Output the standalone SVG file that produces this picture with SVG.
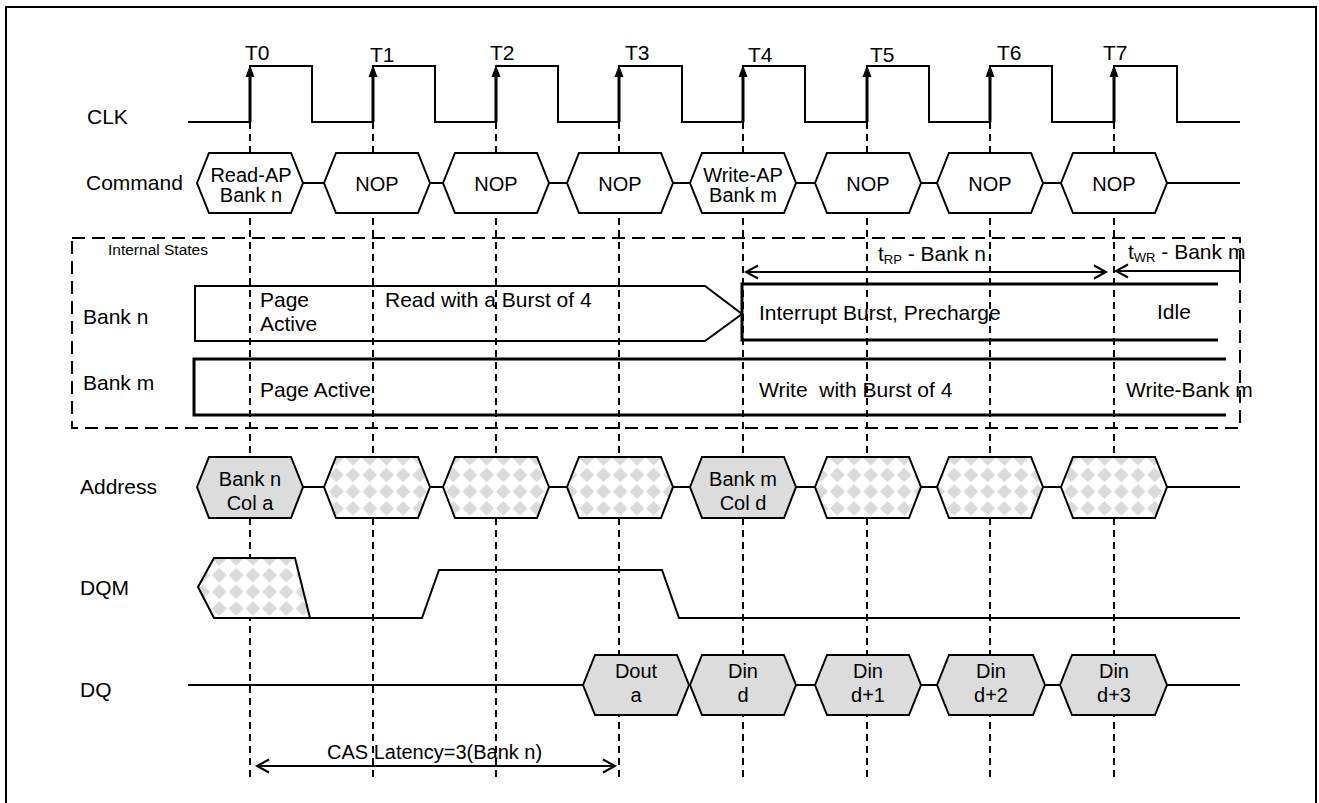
<svg xmlns="http://www.w3.org/2000/svg" width="1319" height="803" viewBox="0 0 1319 803">
<style>
text{font-family:"Liberation Sans",Arial,sans-serif;fill:#000;font-size:21px}
.hx{font-size:20px;text-anchor:middle}
.ln{fill:none;stroke:#000;stroke-width:2}
.thick{fill:none;stroke:#000;stroke-width:3}
.grid{stroke:#000;stroke-width:2;stroke-dasharray:7 5;fill:none}
.wh{fill:#fff;stroke:#000;stroke-width:2}
.gr{fill:#dcdcdc;stroke:#000;stroke-width:2}
.ht{fill:url(#hatch);stroke:#000;stroke-width:2}
.dim{fill:none;stroke:#000;stroke-width:2;marker-start:url(#chevS);marker-end:url(#chevE)}
</style>
<defs>
<pattern id="hatch" patternUnits="userSpaceOnUse" x="-6" y="-1" width="16.7" height="16.7">
<rect width="16.7" height="16.7" fill="#fff"/>
<polygon points="8.35,0.9 15.8,8.35 8.35,15.8 0.9,8.35" fill="#dadada"/>
</pattern>
<marker id="chevE" markerUnits="userSpaceOnUse" markerWidth="16" markerHeight="16" refX="13" refY="8" orient="auto">
<path d="M1,1.5 L13,8 L1,14.5" fill="none" stroke="#000" stroke-width="2"/>
</marker>
<marker id="chevS" markerUnits="userSpaceOnUse" markerWidth="16" markerHeight="16" refX="3" refY="8" orient="auto">
<path d="M15,1.5 L3,8 L15,14.5" fill="none" stroke="#000" stroke-width="2"/>
</marker>
<polygon id="clkArr" points="-4.5,77 4.5,77 0,65" fill="#000"/>
</defs>

<rect x="6" y="7" width="1310" height="810" fill="#fff" stroke="#000" stroke-width="2"/>

<g id="connectors">
<g id="time-grid">
<line class="grid" x1="250" y1="122" x2="250" y2="782"/>
<line class="grid" x1="373" y1="122" x2="373" y2="782"/>
<line class="grid" x1="496" y1="122" x2="496" y2="782"/>
<line class="grid" x1="619" y1="122" x2="619" y2="782"/>
<line class="grid" x1="743" y1="122" x2="743" y2="782"/>
<line class="grid" x1="867" y1="122" x2="867" y2="782"/>
<line class="grid" x1="990" y1="122" x2="990" y2="782"/>
<line class="grid" x1="1114" y1="122" x2="1114" y2="782"/>
</g>
<line class="dim" x1="746" y1="272" x2="1106" y2="272"/>
<line x1="1240" y1="271" x2="1116" y2="271" fill="none" stroke="#000" stroke-width="2" marker-end="url(#chevE)"/>
<line x1="1240" y1="262" x2="1240" y2="280" stroke="#000" stroke-width="2"/>
<line class="dim" x1="257" y1="766" x2="615" y2="766"/>
<line class="ln" x1="303" y1="183" x2="324" y2="183"/>
<line class="ln" x1="430" y1="183" x2="443" y2="183"/>
<line class="ln" x1="549" y1="183" x2="567" y2="183"/>
<line class="ln" x1="673" y1="183" x2="690" y2="183"/>
<line class="ln" x1="796" y1="183" x2="815" y2="183"/>
<line class="ln" x1="921" y1="183" x2="937" y2="183"/>
<line class="ln" x1="1043" y1="183" x2="1061" y2="183"/>
<line class="ln" x1="1167" y1="183" x2="1240" y2="183"/>
<line class="ln" x1="303" y1="487" x2="324" y2="487"/>
<line class="ln" x1="430" y1="487" x2="443" y2="487"/>
<line class="ln" x1="549" y1="487" x2="567" y2="487"/>
<line class="ln" x1="673" y1="487" x2="690" y2="487"/>
<line class="ln" x1="796" y1="487" x2="815" y2="487"/>
<line class="ln" x1="921" y1="487" x2="937" y2="487"/>
<line class="ln" x1="1043" y1="487" x2="1061" y2="487"/>
<line class="ln" x1="1167" y1="487" x2="1240" y2="487"/>
<line class="ln" x1="188" y1="685" x2="583" y2="685"/>
<line class="ln" x1="796" y1="685" x2="815" y2="685"/>
<line class="ln" x1="921" y1="685" x2="937" y2="685"/>
<line class="ln" x1="1045" y1="685" x2="1060" y2="685"/>
<line class="ln" x1="1167" y1="685" x2="1240" y2="685"/>
</g>

<g id="internal-states">
<rect x="72" y="238" width="1168" height="190" fill="none" stroke="#000" stroke-width="2" stroke-dasharray="13 7"/>
<text x="108" y="255" style="font-size:15.5px">Internal States</text>
</g>

<g id="clk">
<text x="87" y="124">CLK</text>
<path class="ln" d="M188,122 H250 V66 H312 V122 H373 V66 H435 V122 H496 V66 H558 V122 H619 V66 H682 V122 H743 V66 H805 V122 H867 V66 H929 V122 H990 V66 H1052 V122 H1114 V66 H1177 V122 H1240"/>
<path d="M250,122V70 M373,122V70 M496,122V70 M619,122V70 M743,122V70 M867,122V70 M990,122V70 M1114,122V70" stroke="#000" stroke-width="3"/>
<use href="#clkArr" x="250"/><use href="#clkArr" x="373"/><use href="#clkArr" x="496"/><use href="#clkArr" x="619"/>
<use href="#clkArr" x="743"/><use href="#clkArr" x="867"/><use href="#clkArr" x="990"/><use href="#clkArr" x="1114"/>
<g style="font-size:18px">
<text x="245" y="60">T0</text>
<text x="370" y="62">T1</text>
<text x="490" y="60">T2</text>
<text x="625" y="60">T3</text>
<text x="748" y="62">T4</text>
<text x="870" y="62">T5</text>
<text x="997" y="60">T6</text>
<text x="1103" y="60">T7</text>
</g>
</g>

<g id="command">
<text x="86" y="190">Command</text>
<g id="cmd-t0"><polygon class="wh" points="197,183 209,153 291,153 303,183 291,213 209,213"/><text class="hx" x="251" y="182">Read-AP</text><text class="hx" x="251" y="202">Bank n</text></g>
<g id="cmd-t1"><polygon class="wh" points="324,183 336,153 418,153 430,183 418,213 336,213"/><text class="hx" x="377" y="191">NOP</text></g>
<g id="cmd-t2"><polygon class="wh" points="443,183 455,153 537,153 549,183 537,213 455,213"/><text class="hx" x="496" y="191">NOP</text></g>
<g id="cmd-t3"><polygon class="wh" points="567,183 579,153 661,153 673,183 661,213 579,213"/><text class="hx" x="620" y="191">NOP</text></g>
<g id="cmd-t4"><polygon class="wh" points="690,183 702,153 784,153 796,183 784,213 702,213"/><text class="hx" x="743" y="182">Write-AP</text><text class="hx" x="743" y="202">Bank m</text></g>
<g id="cmd-t5"><polygon class="wh" points="815,183 827,153 909,153 921,183 909,213 827,213"/><text class="hx" x="868" y="191">NOP</text></g>
<g id="cmd-t6"><polygon class="wh" points="937,183 949,153 1031,153 1043,183 1031,213 949,213"/><text class="hx" x="990" y="191">NOP</text></g>
<g id="cmd-t7"><polygon class="wh" points="1061,183 1073,153 1155,153 1167,183 1155,213 1073,213"/><text class="hx" x="1114" y="191">NOP</text></g>
</g>

<g id="bank-n">
<text x="83" y="324">Bank n</text>
<path class="ln" d="M195,286 H705 L742,314 L705,341 H195 Z"/>
<text x="260" y="307">Page</text>
<text x="260" y="331">Active</text>
<text x="385" y="307">Read with a Burst of 4</text>
<path class="thick" d="M1218,284 H742 V340 H1218"/>
<text x="759" y="320">Interrupt Burst, Precharge</text>
<text x="1157" y="319">Idle</text>
<text x="878" y="261">t<tspan style="font-size:13px" dy="3">RP</tspan><tspan dy="-3"> - Bank n</tspan></text>
<text x="1128" y="259">t<tspan style="font-size:13px" dy="3">WR</tspan><tspan dy="-3"> - Bank m</tspan></text>
</g>

<g id="bank-m">
<text x="83" y="390">Bank m</text>
<path class="thick" d="M1226,359 H194 V415 H1226"/>
<text x="260" y="397">Page Active</text>
<text x="759" y="397">Write&#160; with Burst of 4</text>
<text x="1126" y="397">Write-Bank m</text>
</g>

<g id="address">
<text x="80" y="494">Address</text>
<g id="addr-t0"><polygon class="gr" points="197,487 209,457 291,457 303,487 291,518 209,518"/><text class="hx" x="250" y="486">Bank n</text><text class="hx" x="250" y="510">Col a</text></g>
<g id="addr-t1"><polygon class="ht" points="324,487 336,457 418,457 430,487 418,518 336,518"/></g>
<g id="addr-t2"><polygon class="ht" points="443,487 455,457 537,457 549,487 537,518 455,518"/></g>
<g id="addr-t3"><polygon class="ht" points="567,487 579,457 661,457 673,487 661,518 579,518"/></g>
<g id="addr-t4"><polygon class="gr" points="690,487 702,457 784,457 796,487 784,518 702,518"/><text class="hx" x="743" y="486">Bank m</text><text class="hx" x="743" y="510">Col d</text></g>
<g id="addr-t5"><polygon class="ht" points="815,487 827,457 909,457 921,487 909,518 827,518"/></g>
<g id="addr-t6"><polygon class="ht" points="937,487 949,457 1031,457 1043,487 1031,518 949,518"/></g>
<g id="addr-t7"><polygon class="ht" points="1061,487 1073,457 1155,457 1167,487 1155,518 1073,518"/></g>
</g>

<g id="dqm">
<text x="80" y="595">DQM</text>
<polygon class="ht" points="198,587 214,558 295,558 310,618 214,618"/>
<path class="ln" d="M310,618 H422 L439,570 H662 L679,618 H1240"/>
</g>

<g id="dq">
<text x="80" y="697">DQ</text>
<g id="dq-dout-a"><polygon class="gr" points="583,685 595,655 677,655 689,685 677,715 595,715"/><text class="hx" x="636" y="678">Dout</text><text class="hx" x="636" y="702">a</text></g>
<g id="dq-din-d"><polygon class="gr" points="690,685 702,655 784,655 796,685 784,715 702,715"/><text class="hx" x="743" y="678">Din</text><text class="hx" x="743" y="702">d</text></g>
<g id="dq-din-d1"><polygon class="gr" points="815,685 827,655 909,655 921,685 909,715 827,715"/><text class="hx" x="868" y="678">Din</text><text class="hx" x="868" y="702">d+1</text></g>
<g id="dq-din-d2"><polygon class="gr" points="937,685 949,655 1033,655 1045,685 1033,715 949,715"/><text class="hx" x="991" y="678">Din</text><text class="hx" x="991" y="702">d+2</text></g>
<g id="dq-din-d3"><polygon class="gr" points="1060,685 1072,655 1155,655 1167,685 1155,715 1072,715"/><text class="hx" x="1114" y="678">Din</text><text class="hx" x="1114" y="702">d+3</text></g>
</g>

<g id="cas-latency">
<text x="327" y="759" style="font-size:20px">CAS Latency=3(Bank n)</text>
</g>
</svg>
